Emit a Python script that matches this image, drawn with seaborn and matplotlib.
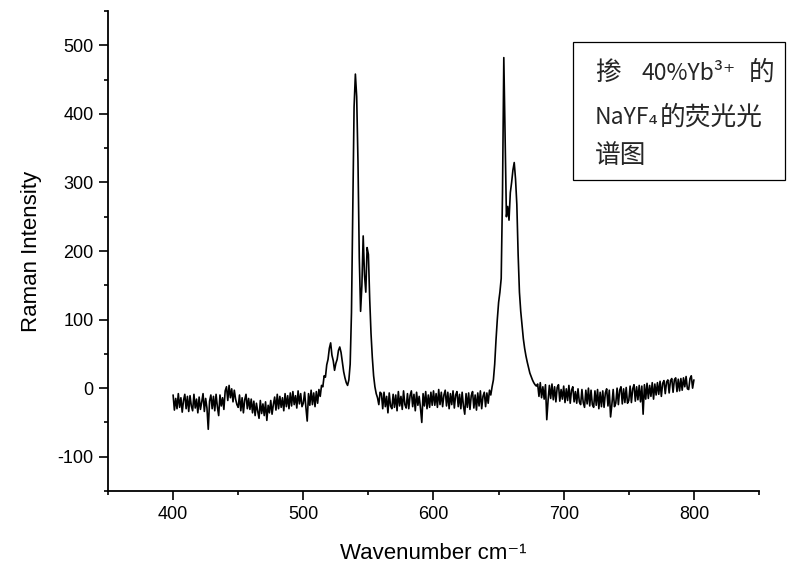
import numpy as np
import pandas as pd
import matplotlib
matplotlib.use("Agg")
import matplotlib.pyplot as plt
import seaborn as sns
from matplotlib.ticker import MultipleLocator
from matplotlib.patches import Rectangle

# ---------------- data ----------------
wavenumber_start = 400
wavenumber_step = 1
intensity = [
    -10, -32, -15, -30, -8, -28, -14, -35, -18, -9,     # 400
    -30, -12, -34, -11, -26, -33, -9, -29, -16, -36,    # 410
    -13, -31, -20, -8, -34, -15, -29, -60, -19, -10,    # 420
    -30, -12, -33, -9, -27, -40, -10, -26, -14, -31,    # 430
    -4, 2, -18, 4, -14, -1, -20, -3, -16, -24,          # 440
    -28, -10, -33, -14, -36, -17, -9, -30, -15, -31,    # 450
    -16, -36, -19, -40, -22, -34, -44, -18, -37, -23,   # 460
    -40, -20, -47, -25, -36, -18, -38, -24, -13, -32,   # 470
    -9, -30, -12, -28, -14, -33, -8, -27, -11, -30,     # 480
    -7, -26, -5, -24, -11, -29, -4, -23, -8, -27,       # 490
    -22, -6, -28, -48, -8, -25, -3, -24, -7, -27,       # 500
    -5, -22, -2, -12, 4, 2, 18, 16, 34, 42,             # 510
    58, 66, 48, 40, 26, 36, 42, 55, 60, 52,             # 520
    38, 24, 15, 8, 4, 12, 35, 110, 260, 410,            # 530
    458, 425, 330, 190, 112, 150, 222, 165, 140, 205,   # 540
    195, 130, 80, 45, 18, 2, -8, -14, -24, -6,          # 550
    -8, -30, -6, -27, -12, -36, -7, -26, -30, -9,       # 560
    -28, -10, -33, -5, -26, -12, -31, -4, -24, -29,     # 570
    -8, -30, -11, -4, -27, -9, -33, -6, -25, -12,       # 580
    -29, -50, -8, -26, -5, -30, -10, -28, -6, -25,      # 590
    -4, -25, -8, -28, -2, -24, -6, -27, -10, -3,        # 600
    -26, -6, -30, -8, -24, -4, -29, -10, -5, -27,       # 610
    -9, -30, -6, -26, -38, -8, -28, -7, -31, -11,       # 620
    -5, -29, -10, -32, -7, -26, -4, -30, -12, -6,       # 630
    -27, -7, -22, -3, -10, 2, 12, 35, 70, 100,          # 640
    125, 140, 160, 285, 482, 370, 250, 265, 245, 285,   # 650
    300, 318, 329, 305, 268, 195, 140, 112, 92, 72,     # 660
    58, 47, 38, 30, 22, 17, 12, 8, 5, 3,                # 670
    6, -12, 8, -14, 2, -16, 5, -46, -18, 4,             # 680
    -15, 6, -17, 2, -20, 1, 5, -19, -2, -16,            # 690
    3, -21, -1, -18, 4, -22, -3, 2, -20, -5,            # 700
    -22, -1, -20, -24, -2, -21, -28, -3, -23, 0,        # 710
    -26, -3, -24, -28, -4, -25, -2, -30, -6, -27,       # 720
    -4, -28, -7, -1, -26, -3, -42, -24, -2, -27,        # 730
    -22, 0, -24, -3, 2, -23, -1, -21, 1, -22,           # 740
    -18, 3, -21, -1, 5, -19, 2, -17, 4, -20,            # 750
    3, -38, 5, -16, 7, -15, 4, -12, 8, -16,             # 760
    6, -10, 8, -9, 10, -12, 7, 11, -8, 9,               # 770
    12, -7, 11, 14, -6, 12, 15, -5, 13, -4,             # 780
    14, -3, 15, 2, 17, -1, -2, 14, 18, 0,               # 790
    12,                                                 # 800
]
wavenumber = wavenumber_start + wavenumber_step * np.arange(len(intensity))

x_label = "Wavenumber cm⁻¹"
y_label = "Raman Intensity"
x_ticks = [400, 500, 600, 700, 800]
y_ticks = [-100, 0, 100, 200, 300, 400, 500]
box_line1 = ["掺", "40%Yb³⁺", "的"]
box_line2 = ["NaYF₄", "的荧光光"]
box_line3 = "谱图"

df = pd.DataFrame({"wavenumber": wavenumber, "intensity": intensity})

# ---------------- plot ----------------
sns.set_theme(style="ticks")
plt.rcParams["font.family"] = ["Liberation Sans", "DejaVu Sans"]
plt.rcParams["axes.unicode_minus"] = False

W, H = 789, 574
fig = plt.figure(figsize=(W / 100, H / 100), dpi=100)
ax = fig.add_axes([108 / W, 1 - 491 / H, (759 - 108) / W, (491 - 11) / H])

sns.lineplot(data=df, x="wavenumber", y="intensity", color="black",
             linewidth=1.2, estimator=None, ax=ax)

ax.set_xlim(350, 850)
ax.set_ylim(-150, 550)
ax.set_xticks(x_ticks)
ax.set_yticks(y_ticks)
ax.xaxis.set_minor_locator(MultipleLocator(50))
ax.yaxis.set_minor_locator(MultipleLocator(50))
ax.tick_params(which="major", direction="out", length=6.5, width=1.2,
               labelsize=13, colors="black", pad=4)
ax.tick_params(which="minor", direction="out", length=3.2, width=1.2,
               colors="black")
for s in ["top", "right"]:
    ax.spines[s].set_visible(False)
for s in ["left", "bottom"]:
    ax.spines[s].set_linewidth(1.3)
    ax.spines[s].set_color("black")

ax.set_xlabel(x_label, fontsize=16, color="black", labelpad=15)
ax.set_ylabel(y_label, fontsize=16, color="black", labelpad=11)
ax.set_facecolor("white")
fig.patch.set_facecolor("white")

# text box (figure pixel coordinates)
def fx(px):
    return px / W

def fy(py):
    return 1 - py / H

fig.patches.append(Rectangle((fx(572.7), fy(180)), fx(785) - fx(572.7),
                             fy(41.7) - fy(180), transform=fig.transFigure,
                             fill=False, edgecolor="black", linewidth=0.9))
cjk = ["Noto Sans CJK SC", "DejaVu Sans"]
fs_cjk = 18.5
fs_lat = 16.5
fig.text(fx(595), fy(73), box_line1[0], family=cjk, fontsize=fs_cjk, va="center")
fig.text(fx(642), fy(73), box_line1[1], family=cjk, fontsize=fs_lat, va="center")
fig.text(fx(749), fy(73), box_line1[2], family=cjk, fontsize=fs_cjk, va="center")
fig.text(fx(595), fy(118), box_line2[0], family=cjk, fontsize=fs_lat, va="center")
fig.text(fx(660), fy(118), box_line2[1], family=cjk, fontsize=fs_cjk, va="center")
fig.text(fx(595), fy(156), box_line3, family=cjk, fontsize=fs_cjk, va="center")

fig.savefig("out.png", dpi=100)
